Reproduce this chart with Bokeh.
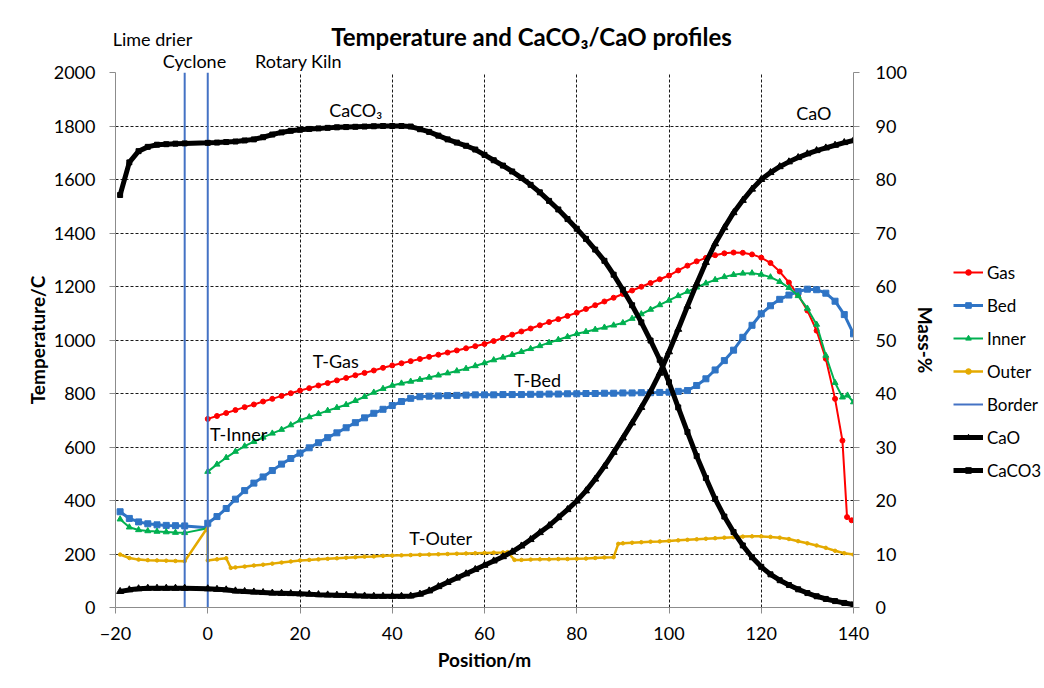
from bokeh.plotting import figure
from bokeh.models import (Range1d, LinearAxis, Legend, LegendItem, Label,
                          FixedTicker)
from bokeh.embed import file_html
from bokeh.resources import INLINE

FONT = "Lato"
W, H = 1040, 684          # main chart canvas
OW, OH = 1044, 688        # overlay canvas (whole window)

# ---------------- data ----------------
x_ticks = [-20, 0, 20, 40, 60, 80, 100, 120, 140]
t_ticks = [0, 200, 400, 600, 800, 1000, 1200, 1400, 1600, 1800, 2000]
mass_ticks = [0, 10, 20, 30, 40, 50, 60, 70, 80, 90, 100]

# lime drier / cyclone section
pre_x = [-19, -17, -15, -13, -11, -9, -7, -5, 0]
bed_pre = [358, 333, 320, 313, 309, 307, 306, 305, 298]
inner_pre = [330, 300, 290, 286, 284, 282, 280, 279, 296]
outer_pre = [198, 185, 179, 177, 176, 175, 174, 173, 300]
cao_pre = [3.0, 3.3, 3.5, 3.6, 3.6, 3.6, 3.6, 3.6, 3.5]
caco3_pre = [77.1, 83.2, 85.3, 86.1, 86.5, 86.6, 86.7, 86.75, 86.85]

# rotary kiln section
kiln_x = [0, 2, 4, 6, 8, 10, 12, 14, 16, 18, 20, 22, 24, 26, 28, 30, 32, 34,
          36, 38, 40, 42, 44, 46, 48, 50, 52, 54, 56, 58, 60, 62, 64, 66, 68,
          70, 72, 74, 76, 78, 80, 82, 84, 86, 88, 90, 92, 94, 96, 98, 100,
          102, 104, 106, 108, 110, 112, 114, 116, 118, 120, 122, 124, 126,
          128, 130, 132, 134, 136, 138, 140]

gas_x = [0, 2, 4, 6, 8, 10, 12, 14, 16, 18, 20, 22, 24, 26, 28, 30, 32, 34,
         36, 38, 40, 42, 44, 46, 48, 50, 52, 54, 56, 58, 60, 62, 64, 66, 68,
         70, 72, 74, 76, 78, 80, 82, 84, 86, 88, 90, 92, 94, 96, 98, 100,
         102, 104, 106, 108, 110, 112, 114, 116, 118, 120, 122, 124, 126,
         128, 130, 132, 134, 136, 137.6, 138.6, 139.6]
gas_t = [705, 716, 727, 738, 749, 759, 770, 780, 791, 801,
         811, 820, 830, 839, 849, 858, 868, 877, 886, 896,
         905, 913, 921, 929, 937, 945, 953, 961, 969, 977,
         985, 996, 1008, 1020, 1032, 1043, 1055, 1067, 1078, 1090,
         1102, 1116, 1130, 1144, 1158, 1172, 1185, 1199, 1213, 1227,
         1241, 1260, 1278, 1294, 1307, 1317, 1324, 1327, 1326, 1320,
         1308, 1288, 1256, 1215, 1168, 1110, 1035, 930, 780,
         624, 338, 326]

bed_t = [315, 340, 370, 405, 437, 465, 488, 512, 536, 557,
         577, 597, 616, 635, 653, 672, 691, 709, 726, 741,
         755, 770, 782, 788, 790, 791, 792, 793, 794, 795,
         795, 795, 796, 796, 796, 797, 797, 798, 798, 799,
         799, 800, 800, 801, 801, 802, 802, 803, 803, 804,
         805, 808, 811, 830, 855, 888, 923, 962, 1010, 1055,
         1098, 1128, 1152, 1168, 1181, 1190, 1188, 1175, 1145, 1095,
         1023]

inner_x = [0, 2, 4, 6, 8, 10, 12, 14, 16, 18, 20, 22, 24, 26, 28, 30, 32, 34,
           36, 38, 40, 42, 44, 46, 48, 50, 52, 54, 56, 58, 60, 62, 64, 66, 68,
           70, 72, 74, 76, 78, 80, 82, 84, 86, 88, 90, 92, 94, 96, 98, 100,
           102, 104, 106, 108, 110, 112, 114, 116, 118, 120, 122, 124, 126,
           128, 130, 132, 134, 136, 137.6, 138.7, 140]
inner_t = [508, 535, 560, 583, 603, 620, 636, 651, 665, 682,
           700, 712, 724, 736, 747, 758, 773, 788, 804, 818,
           830, 838, 845, 852, 860, 868, 876, 884, 893, 903,
           914, 925, 935, 945, 956, 967, 978, 990, 1001, 1012,
           1023, 1031, 1039, 1047, 1055, 1064, 1080, 1097, 1114, 1131,
           1148, 1165, 1181, 1197, 1212, 1225, 1236, 1244, 1249, 1250,
           1245, 1235, 1218, 1195, 1165, 1118, 1058, 942, 840,
           786, 793, 768]

outer_x = [0, 2, 4, 5, 6, 8, 10, 12, 14, 16, 18, 20, 22, 24, 26, 28, 30, 32,
           34, 36, 38, 40, 42, 44, 46, 48, 50, 52, 54, 56, 58, 60, 62, 64, 65,
           66.5, 68, 70, 72, 74, 76, 78, 80, 82, 84, 86, 88, 89, 90, 92, 94,
           96, 98, 100, 102, 104, 106, 108, 110, 112, 114, 116, 118, 120, 122,
           124, 126, 128, 130, 132, 134, 136, 138, 140]
outer_t = [176, 180, 184, 148, 150, 153, 157, 160, 164, 168, 172, 176, 178,
           180, 182, 184, 186, 188, 190, 191, 193, 194, 195, 196, 197, 198,
           199, 200, 201, 202, 203, 204, 205, 206, 207,
           178, 178, 179, 180, 180, 181, 181, 182, 183, 185, 187, 188, 238,
           240, 242, 244, 246, 247, 249, 251, 253, 255, 257, 259, 261, 263,
           265, 266, 266, 264, 261, 256, 248, 240, 232, 223, 212, 203, 198]

cao_m = [3.5, 3.4, 3.3, 3.1, 3.0, 2.9, 2.8, 2.7, 2.65, 2.6,
         2.55, 2.5, 2.4, 2.35, 2.3, 2.25, 2.2, 2.15, 2.1, 2.1,
         2.1, 2.1, 2.15, 2.5, 3.1, 3.9, 4.7, 5.5, 6.3, 7.1,
         7.9, 8.7, 9.5, 10.4, 11.5, 12.7, 14.0, 15.3, 16.8, 18.3,
         19.9, 21.8, 24.0, 26.4, 29.0, 31.7, 34.5, 37.4, 40.4, 43.8,
         47.8, 52.0, 56.3, 60.5, 64.5, 68.0, 71.0, 73.8, 76.1, 78.2,
         80.0, 81.3, 82.4, 83.3, 84.1, 84.8, 85.4, 85.9, 86.4, 86.9,
         87.3]

caco3_m = [86.85, 86.9, 87.0, 87.1, 87.3, 87.5, 87.9, 88.4, 88.8, 89.1,
           89.3, 89.45, 89.55, 89.65, 89.75, 89.8, 89.85, 89.9, 89.95, 90.0,
           90.0, 90.0, 89.9, 89.4, 88.9, 88.2, 87.5, 86.9, 86.3, 85.6,
           84.6, 83.6, 82.6, 81.5, 80.3, 79.0, 77.6, 76.0, 74.4, 72.6,
           70.8, 68.9, 66.9, 64.8, 62.2, 59.4, 56.5, 53.3, 49.9, 46.3,
           42.1, 37.4, 32.8, 28.3, 24.2, 20.3, 17.0, 14.1, 11.6, 9.4,
           7.6, 6.2, 5.1, 4.2, 3.4, 2.7, 2.1, 1.6, 1.2, 0.85,
           0.55]

border_x = [-5, 0]
border_t = [0, 2000]

legend_labels = ["Gas", "Bed", "Inner", "Outer", "Border", "CaO", "CaCO3"]

RED = "#FF0000"
BLUE = "#2F74C5"
GREEN = "#00B050"
GOLD = "#E4AA00"
BORDER = "#4472C4"

# style of each series: (colour, line width, marker, marker size)
STY = {
    "Gas": (RED, 2, "circle", 5),
    "Bed": (BLUE, 3, "square", 6),
    "Inner": (GREEN, 2, "triangle", 6),
    "Outer": (GOLD, 2.5, "circle", 3.5),
    "Border": (BORDER, 2, None, 0),
    "CaO": ("black", 5, "triangle", 7),
    "CaCO3": ("black", 5, "square", 5),
}
# the points each series is drawn from
SERIES = {
    "Gas": (gas_x, gas_t),
    "Bed": (pre_x + kiln_x, bed_pre + bed_t),
    "Inner": (inner_x, inner_t),
    "Outer": (pre_x + outer_x, outer_pre + outer_t),
    "Border": (border_x, border_t),
    "CaO": (pre_x[:-1] + kiln_x, cao_pre[:-1] + cao_m),
    "CaCO3": (pre_x[:-1] + kiln_x, caco3_pre[:-1] + caco3_m),
}

TXT = "18px"
# ---------------- main figure ----------------
p = figure(width=W, height=H, output_backend="svg", toolbar_location=None,
           title=None,
           x_range=Range1d(-20, 140), y_range=Range1d(0, 2000),
           min_border_left=115, min_border_right=W - 853,
           min_border_top=72, min_border_bottom=H - 607)
p.outline_line_color = None
p.extra_y_ranges = {"mass": Range1d(0, 100)}

GRID = "#1a1a1a"
AX = "#8c8c8c"
p.xgrid.ticker = FixedTicker(ticks=x_ticks)
p.ygrid.ticker = FixedTicker(ticks=t_ticks)
for g in (p.xgrid, p.ygrid):
    g.grid_line_color = GRID
    g.grid_line_dash = "3 2"
    g.grid_line_width = 1

p.xaxis.ticker = FixedTicker(ticks=x_ticks)
p.yaxis.ticker = FixedTicker(ticks=t_ticks)
p.xaxis.axis_label = "Position/m"
p.yaxis.axis_label = "Temperature/C"

right = LinearAxis(y_range_name="mass", ticker=FixedTicker(ticks=mass_ticks),
                   axis_label="Mass-%")
p.add_layout(right, "right")

for ax in (p.xaxis[0], p.yaxis[0], right):
    ax.axis_line_color = AX
    ax.major_tick_line_color = AX
    ax.minor_tick_line_color = None
    ax.major_tick_out = 6
    ax.major_tick_in = 0
    ax.major_label_text_font = FONT
    ax.major_label_text_font_size = TXT
    ax.major_label_text_color = "black"
    ax.axis_label_text_font = FONT
    ax.axis_label_text_font_size = "19px"
    ax.axis_label_text_font_style = "bold"
    ax.axis_label_text_color = "black"
p.yaxis[0].major_label_standoff = 14
p.yaxis[0].axis_label_standoff = 2
right.major_label_standoff = 16
right.axis_label_standoff = 4
p.xaxis[0].major_label_standoff = 13
p.xaxis[0].axis_label_standoff = 5


def draw(fig, name, xs, ys, marker_xs=None, marker_ys=None, **kw):
    c, lw, mk, ms = STY[name]
    fig.line(xs, ys, line_color=c, line_width=lw, **kw)
    if mk:
        fig.scatter(xs if marker_xs is None else marker_xs,
                    ys if marker_ys is None else marker_ys,
                    marker=mk, size=ms, fill_color=c, line_color=c, **kw)


draw(p, "Gas", *SERIES["Gas"])
draw(p, "Bed", *SERIES["Bed"], marker_xs=pre_x[:-1] + kiln_x,
     marker_ys=bed_pre[:-1] + bed_t)
p.line(pre_x, inner_pre, line_color=GREEN, line_width=2)
draw(p, "Inner", *SERIES["Inner"], marker_xs=pre_x[:-1] + inner_x,
     marker_ys=inner_pre[:-1] + inner_t)
draw(p, "Outer", *SERIES["Outer"], marker_xs=pre_x[:-1] + outer_x,
     marker_ys=outer_pre[:-1] + outer_t)
p.multi_line([[b, b] for b in border_x], [border_t, border_t],
             line_color=BORDER, line_width=2)
draw(p, "CaO", *SERIES["CaO"], y_range_name="mass")
draw(p, "CaCO3", *SERIES["CaCO3"], y_range_name="mass")


def lab(fig, x, y, text, size=TXT, bold=False):
    fig.add_layout(Label(x=x, y=y, text=text, text_font=FONT,
                         text_font_size=size,
                         text_font_style="bold" if bold else "normal",
                         text_align="center", text_baseline="middle",
                         text_color="black"))


lab(p, 27.75, 923, "T-Gas")
lab(p, 6.7, 647, "T-Inner")
lab(p, 50.5, 258, "T-Outer")
lab(p, 71.5, 852, "T-Bed")
lab(p, 32.1, 1858, "CaCO\u2083")
lab(p, 131.4, 1850, "CaO")

# ------ transparent overlay (own root) for texts and legend outside the frame ------
ov = figure(width=OW, height=OH, output_backend="svg", toolbar_location=None,
            title=None, x_range=Range1d(0, OW), y_range=Range1d(OH, 0),
            x_axis_type=None, y_axis_type=None, min_border=0)
ov.outline_line_color = None
ov.background_fill_alpha = 0
ov.border_fill_alpha = 0
ov.styles = {"position": "absolute", "left": "0px", "top": "0px"}

# legend entries: hidden copies of the series (only their legend glyphs show)
items = []
for name in legend_labels:
    c, lw, mk, ms = STY[name]
    xs, ys = SERIES[name]
    rs = [ov.line(xs, ys, line_color=c, line_width=lw, visible=False)]
    if mk:
        rs.append(ov.scatter(xs, ys, marker=mk, size=ms, fill_color=c,
                             line_color=c, visible=False))
    items.append(LegendItem(label=name, renderers=rs))

legend = Legend(items=items, location=(953, OH - 481), orientation="vertical",
                glyph_width=30, glyph_height=14, label_height=22, spacing=11,
                padding=0, margin=0, label_standoff=4, border_line_color=None,
                background_fill_alpha=0, inactive_fill_alpha=0,
                label_text_font=FONT, label_text_font_size="17px",
                label_text_color="black")
ov.add_layout(legend)

lab(ov, 531, 36, "Temperature and CaCO\u2083/CaO profiles", "24px", True)
lab(ov, 152, 38, "Lime drier")
lab(ov, 194, 60, "Cyclone")
lab(ov, 298, 60, "Rotary Kiln")

open("out.html", "w").write(file_html([p, ov], INLINE))
